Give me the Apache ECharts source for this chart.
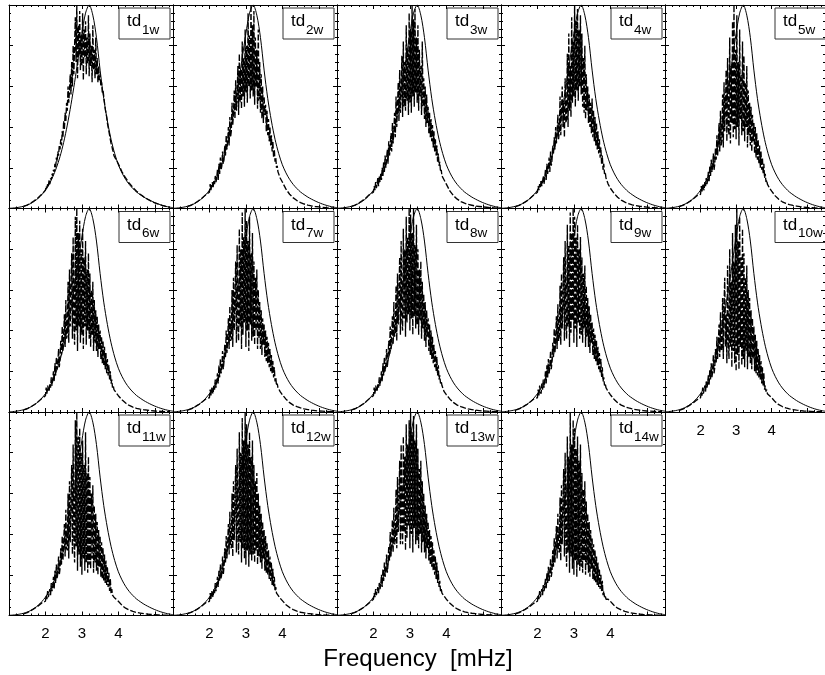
<!DOCTYPE html>
<html><head><meta charset="utf-8">
<script src="https://cdn.jsdelivr.net/npm/echarts@6/dist/echarts.min.js"></script>
<style>html,body{margin:0;padding:0;background:#fff}#c{width:825px;height:675px}</style>
</head><body><div id="c"></div><script>
// ---- data ----
const panelLabels = ['1w','2w','3w','4w','5w','6w','7w','8w','9w','10w','11w','12w','13w','14w'];
const xTickLabels = [2, 3, 4];
const xAxisTitle = 'Frequency  [mHz]';

// smooth model curve (solid): frequency in mHz, power in % of peak
const modelX = [1.0,1.1,1.2,1.3,1.4,1.5,1.6,1.7,1.8,1.9,2.0,2.1,2.2,2.3,2.4,2.5,2.6,2.7,2.8,2.9,3.0,3.1,3.2,3.3,3.4,3.5,3.6,3.7,3.8,3.9,4.0,4.1,4.2,4.3,4.4,4.5,4.6,4.7,4.8,4.9,5.0,5.1,5.2,5.3,5.4,5.5];
const modelY = [0.1,0.2,0.4,0.7,1.1,1.7,2.5,3.6,5,6.8,9,11.8,15.5,20,25.5,32.5,41,51,62,74,86,96,100,95,84,68,54,43,34,27,21.5,17.5,14.3,11.8,9.8,8.1,6.8,5.6,4.6,3.7,2.9,2.2,1.6,1.1,0.7,0.4];

// observed spectra (dashed) on a shared frequency grid
const dataX = [1.4,1.5,1.6,1.7,1.8,1.9,
2.00,2.02,2.04,2.06,2.08,2.10,2.12,2.14,2.16,2.18,
2.20,2.22,2.24,2.26,2.28,2.30,2.32,2.34,2.36,2.38,
2.40,2.42,2.44,2.46,2.48,2.50,2.52,2.54,2.56,2.58,
2.60,2.62,2.64,2.66,2.68,2.70,2.72,2.74,2.76,2.78,
2.80,2.82,2.84,2.86,2.88,2.90,2.92,2.94,2.96,2.98,
3.00,3.02,3.04,3.06,3.08,3.10,3.12,3.14,3.16,3.18,
3.20,3.22,3.24,3.26,3.28,3.30,3.32,3.34,3.36,3.38,
3.40,3.42,3.44,3.46,3.48,3.50,3.52,3.54,3.56,3.58,
3.60,3.62,3.64,3.66,3.68,3.70,3.72,3.74,3.76,3.78,
3.80,3.82,3.84,3.86,3.88,
3.94,4.0,4.1,4.2,4.3,4.4,4.5,4.6,4.7,4.8,4.9,5.0,5.1,5.2,5.3,5.4];

const td1w = [1.0,1.7,2.7,3.9,5.3,7.0,
9,11,10,12,11,14,12,15,14,17,
16,19,18,22,20,25,23,28,26,31,
29,34,31,38,35,43,39,47,43,52,
48,60,52,58,66,56,72,60,80,66,
66,94,72,100,64,90,75,97,68,85,
70,96,63,88,74,92,66,84,71,95,
65,86,70,80,62,90,68,78,64,84,
66,74,62,70,63,66,60,62,57,58,
55,52,49,47,45,42,40,38,36,34,
32,31,29,28,26,
24,22,18,15,12.5,10.3,8.5,7,5.7,4.6,3.6,2.8,2.1,1.5,1.0,0.6];
const td2w = [1.0,1.6,2.6,3.8,5.2,6.8,
8,12,9,11,13,10,14,12,16,13,
15,19,14,22,17,25,19,21,28,22,
24,31,26,36,29,33,40,31,45,35,
38,52,41,47,58,44,63,48,55,70,
46,76,52,68,49,82,55,74,50,88,
57,80,52,96,60,85,54,100,58,90,
55,97,51,84,60,78,49,88,53,72,
47,66,44,60,42,55,46,51,38,48,
36,44,33,40,31,36,28,33,25,29,
23,25,20,21,18,
15,13,9.5,7,5.2,3.9,2.9,2.2,1.7,1.3,1.0,0.8,0.6,0.4,0.3,0.2];
const td3w = [1.0,1.7,2.7,3.9,5.3,7.0,
8,11,9,13,10,12,15,11,16,13,
17,14,20,16,23,18,26,20,24,29,
22,33,26,30,37,28,42,32,38,47,
35,55,40,50,62,43,68,47,58,75,
45,82,50,72,48,90,53,78,46,96,
52,88,47,100,55,93,50,98,57,84,
52,90,48,78,55,70,46,82,50,64,
44,60,40,56,42,50,37,47,35,44,
33,41,30,38,28,34,26,31,23,27,
21,23,18,19,16,
14,12,8.5,6.2,4.6,3.4,2.6,2.0,1.6,1.2,1.0,0.8,0.6,0.4,0.3,0.2];
const td4w = [0.9,1.5,2.5,3.6,5.0,6.6,
8,11,9,12,10,14,11,13,16,12,
15,19,14,22,17,20,25,18,28,21,
24,31,27,35,29,40,32,37,46,34,
38,55,36,48,60,40,52,35,64,42,
44,76,40,86,48,70,45,94,52,82,
55,100,50,92,58,98,53,88,60,95,
56,86,50,74,47,80,44,66,48,60,
42,56,40,52,37,54,35,48,33,45,
31,42,29,38,27,34,25,30,22,26,
19,22,17,18,15,
12,10,7.5,5.5,4.1,3.1,2.4,1.8,1.4,1.1,0.9,0.7,0.5,0.4,0.3,0.2];
const td5w = [0.9,1.5,2.4,3.5,4.8,6.3,
7,11,8,12,10,9,13,11,15,12,
14,18,13,21,16,24,18,20,27,19,
22,30,24,36,26,33,42,28,48,31,
34,56,30,62,38,50,68,33,74,40,
36,84,32,70,42,92,35,100,39,78,
34,95,40,72,31,88,44,66,36,82,
38,75,33,62,40,70,30,58,36,52,
31,50,28,46,33,42,27,40,25,37,
24,34,22,31,20,28,19,25,17,22,
15,17,13,14,12,
10,8.5,6.2,4.5,3.3,2.5,1.9,1.5,1.2,0.9,0.7,0.5,0.4,0.3,0.2,0.1];
const td6w = [1.0,1.6,2.6,3.7,5.0,6.6,
8,12,9,13,11,10,14,12,17,13,
16,20,15,24,18,27,21,23,31,22,
26,35,28,42,30,38,48,32,55,36,
38,64,34,70,42,58,78,36,86,44,
33,96,40,100,30,88,42,94,34,80,
38,90,31,76,42,84,33,70,40,78,
36,68,32,60,38,64,30,55,34,50,
30,47,27,43,31,40,26,37,24,35,
23,32,21,29,19,26,18,23,16,20,
14,16,12,13,11,
9.5,8,6,4.4,3.2,2.4,1.8,1.4,1.1,0.9,0.7,0.5,0.4,0.3,0.2,0.1];
const td7w = [0.9,1.5,2.5,3.6,4.9,6.4,
7,11,8,12,10,9,13,11,16,12,
15,19,14,23,17,26,19,22,30,21,
25,33,27,40,29,36,46,31,52,35,
36,60,32,66,40,55,74,34,82,42,
35,90,42,80,31,98,38,86,44,100,
32,94,40,84,30,96,43,78,35,88,
37,74,33,66,40,70,31,60,36,54,
31,50,28,46,33,43,27,40,25,37,
24,34,22,31,20,28,19,25,17,22,
15,17,13,14,12,
10,8.5,6.3,4.6,3.4,2.6,2.0,1.5,1.2,0.9,0.7,0.5,0.4,0.3,0.2,0.1];
const td8w = [1.0,1.6,2.6,3.8,5.1,6.7,
8,12,9,13,11,10,14,12,17,13,
16,20,15,24,18,27,20,23,31,22,
26,35,28,42,31,38,47,33,54,37,
39,62,35,68,43,58,76,38,84,46,
40,90,46,80,37,96,44,86,48,100,
40,97,46,88,38,100,47,82,41,92,
43,80,38,70,45,74,36,64,41,58,
35,54,32,50,37,46,30,43,28,40,
26,37,24,33,22,30,20,27,18,23,
16,18,14,15,13,
10,8.5,6.3,4.6,3.4,2.6,2.0,1.5,1.2,0.9,0.7,0.5,0.4,0.3,0.2,0.1];
const td9w = [0.9,1.5,2.5,3.6,4.9,6.4,
7,11,8,13,10,9,14,11,16,12,
15,20,14,23,17,26,19,22,30,21,
25,34,27,41,29,37,47,31,53,35,
37,62,33,68,41,56,76,35,84,43,
36,92,42,82,32,98,39,88,45,100,
34,96,41,86,32,92,44,80,36,86,
38,76,34,68,41,72,32,62,37,56,
32,52,29,48,34,44,28,41,26,38,
25,35,23,32,21,29,19,26,17,22,
15,17,13,14,12,
10,8.5,6.3,4.6,3.4,2.6,2.0,1.5,1.2,0.9,0.7,0.5,0.4,0.3,0.2,0.1];
const td10w = [0.8,1.4,2.3,3.4,4.6,6.0,
7,10,8,12,9,11,13,10,15,12,
14,18,13,21,16,24,17,20,28,19,
22,31,24,37,26,34,43,27,49,31,
30,56,26,52,66,32,48,24,72,36,
26,80,32,64,22,88,30,74,24,92,
20,100,28,84,21,96,32,76,23,90,
26,78,22,66,30,72,21,60,27,56,
24,50,21,46,26,42,20,38,19,35,
18,31,17,28,16,25,14,22,13,19,
11,13,10,11,9,
8,7,5,3.6,2.7,2.0,1.5,1.2,0.9,0.7,0.5,0.4,0.3,0.2,0.2,0.1];
const td11w = [0.8,1.4,2.4,3.5,4.7,6.2,
7,10,8,12,9,11,13,10,16,12,
14,19,13,22,16,25,18,21,29,20,
23,33,25,39,27,36,45,29,52,33,
32,60,28,66,36,56,74,30,84,38,
26,96,34,100,22,88,30,92,24,80,
20,86,28,74,22,90,26,70,21,78,
25,68,23,60,28,64,21,54,26,50,
22,46,20,42,24,39,19,36,18,33,
17,30,16,27,15,24,14,21,12,18,
11,13,10,10,9,
8,7,5,3.6,2.7,2.0,1.5,1.2,0.9,0.7,0.5,0.4,0.3,0.2,0.2,0.1];
const td12w = [0.9,1.5,2.4,3.5,4.8,6.3,
7,11,8,12,10,9,13,11,16,12,
15,19,14,22,17,25,18,21,29,20,
24,33,26,39,28,36,45,30,51,34,
33,60,29,66,37,55,74,31,82,39,
30,90,36,80,26,97,33,86,28,100,
25,94,32,84,24,90,30,78,27,86,
30,74,26,66,32,70,25,60,29,54,
26,50,23,46,28,42,22,39,21,36,
20,32,18,29,17,26,15,23,14,19,
12,14,11,11,10,
8.5,7.3,5.3,3.9,2.9,2.2,1.6,1.3,1.0,0.8,0.6,0.4,0.3,0.2,0.2,0.1];
const td13w = [0.9,1.5,2.5,3.6,4.9,6.4,
8,11,9,13,10,12,14,11,16,13,
15,20,14,23,17,26,19,22,30,21,
25,34,27,41,29,37,47,31,53,35,
37,62,33,68,41,56,76,35,84,43,
35,88,41,78,32,94,38,84,44,96,
33,100,40,90,31,98,43,86,35,94,
37,82,33,72,40,76,31,66,36,60,
31,54,28,50,33,46,27,42,25,39,
24,36,22,32,20,29,18,26,16,22,
14,17,12,13,11,
9.5,8,6,4.4,3.2,2.4,1.8,1.4,1.1,0.9,0.7,0.5,0.4,0.3,0.2,0.1];
const td14w = [0.8,1.4,2.3,3.4,4.6,6.0,
7,10,8,12,9,11,13,10,15,12,
14,18,13,21,16,24,17,20,28,19,
22,32,24,38,26,35,44,28,50,32,
31,58,27,64,35,54,72,29,80,37,
24,88,31,78,21,100,29,84,23,96,
20,92,27,82,19,88,25,76,22,84,
24,70,21,62,27,66,20,56,25,50,
21,46,19,42,23,38,18,35,17,32,
16,29,15,26,14,23,13,20,12,17,
10,12,9,10,8,
8,7,5,3.6,2.7,2.0,1.5,1.2,0.9,0.7,0.5,0.4,0.3,0.2,0.2,0.1];

const observed = [td1w,td2w,td3w,td4w,td5w,td6w,td7w,td8w,td9w,td10w,td11w,td12w,td13w,td14w];

// ---- layout ----
const FONT = '"Liberation Sans", Arial, Helvetica, sans-serif';
const COLS = 5, PX0 = 9, PY0 = 5, PW = 164, PH = 203.5;

const chart = echarts.init(document.getElementById('c'), null, {renderer: 'canvas'});
const grids = [], xAxes = [], yAxes = [], series = [], graphics = [];

observed.forEach((obs, p) => {
  const row = Math.floor(p / COLS), col = p % COLS;
  const left = PX0 + col * PW, top = PY0 + row * PH;
  grids.push({left: left, top: top, width: PW, height: PH, containLabel: false});
  const showLab = (p >= 10 || p === 9);
  const xBase = {
    gridIndex: p, type: 'value', min: 1, max: 5.5, interval: 1,
    axisLine: {show: true, onZero: false, lineStyle: {color: '#000', width: 1}},
    axisTick: {show: true, inside: true, length: 4, lineStyle: {color: '#000', width: 1}},
    minorTick: {show: true, splitNumber: 5, length: 2, lineStyle: {color: '#000', width: 1}},
    splitLine: {show: false}
  };
  xAxes.push(Object.assign({}, xBase, {
    position: 'bottom',
    axisLabel: {show: showLab, margin: 11, color: '#000', fontSize: 15, fontFamily: FONT,
      showMinLabel: false, showMaxLabel: false,
      formatter: v => xTickLabels.indexOf(v) >= 0 ? String(v) : ''}
  }));
  xAxes.push(Object.assign({}, xBase, {position: 'top', axisLabel: {show: false}}));
  const yBase = {
    gridIndex: p, type: 'value', min: 0, max: 100, interval: 20,
    axisLine: {show: true, onZero: false, lineStyle: {color: '#000', width: 1}},
    axisTick: {show: true, inside: true, length: 4, lineStyle: {color: '#000', width: 1}},
    minorTick: {show: true, splitNumber: 5, length: 2, lineStyle: {color: '#000', width: 1}},
    splitLine: {show: false}, axisLabel: {show: false}
  };
  yAxes.push(Object.assign({}, yBase, {position: 'left'}));
  yAxes.push(Object.assign({}, yBase, {position: 'right'}));

  series.push({
    type: 'line', xAxisIndex: 2 * p, yAxisIndex: 2 * p,
    data: dataX.map((x, i) => [x, obs[i]]),
    showSymbol: false, symbol: 'none', smooth: false, clip: true,
    lineStyle: {color: '#000', width: 1.35, type: [6, 2]}, silent: true
  });
  series.push({
    type: 'line', xAxisIndex: 2 * p, yAxisIndex: 2 * p,
    data: modelX.map((x, i) => [x, modelY[i]]),
    showSymbol: false, symbol: 'none', smooth: 0.3, clip: true,
    lineStyle: {color: '#000', width: 1}, silent: true
  });

  // legend-like label box
  const bw = 51, bh = 31;
  const bx = left + PW - 3 - bw, by = top + 3;
  graphics.push({
    type: 'group', children: [
      {type: 'rect', shape: {x: bx, y: by, width: bw, height: bh},
       style: {fill: '#fff', stroke: '#333', lineWidth: 1}},
      {type: 'text', style: {text: 'td', x: bx + 8, y: by + 5, font: '17px ' + FONT, fill: '#000',
        textAlign: 'left', textVerticalAlign: 'top'}},
      {type: 'text', style: {text: panelLabels[p], x: bx + 23, y: by + 15, font: '13.5px ' + FONT, fill: '#000',
        textAlign: 'left', textVerticalAlign: 'top'}}
    ]
  });
});

graphics.push({type: 'text', style: {text: xAxisTitle, x: 418, y: 659, font: '24px ' + FONT,
  fill: '#000', textAlign: 'center', textVerticalAlign: 'middle'}});

chart.setOption({
  animation: false,
  backgroundColor: '#fff',
  grid: grids, xAxis: xAxes, yAxis: yAxes, series: series, graphic: graphics
});
</script></body></html>
